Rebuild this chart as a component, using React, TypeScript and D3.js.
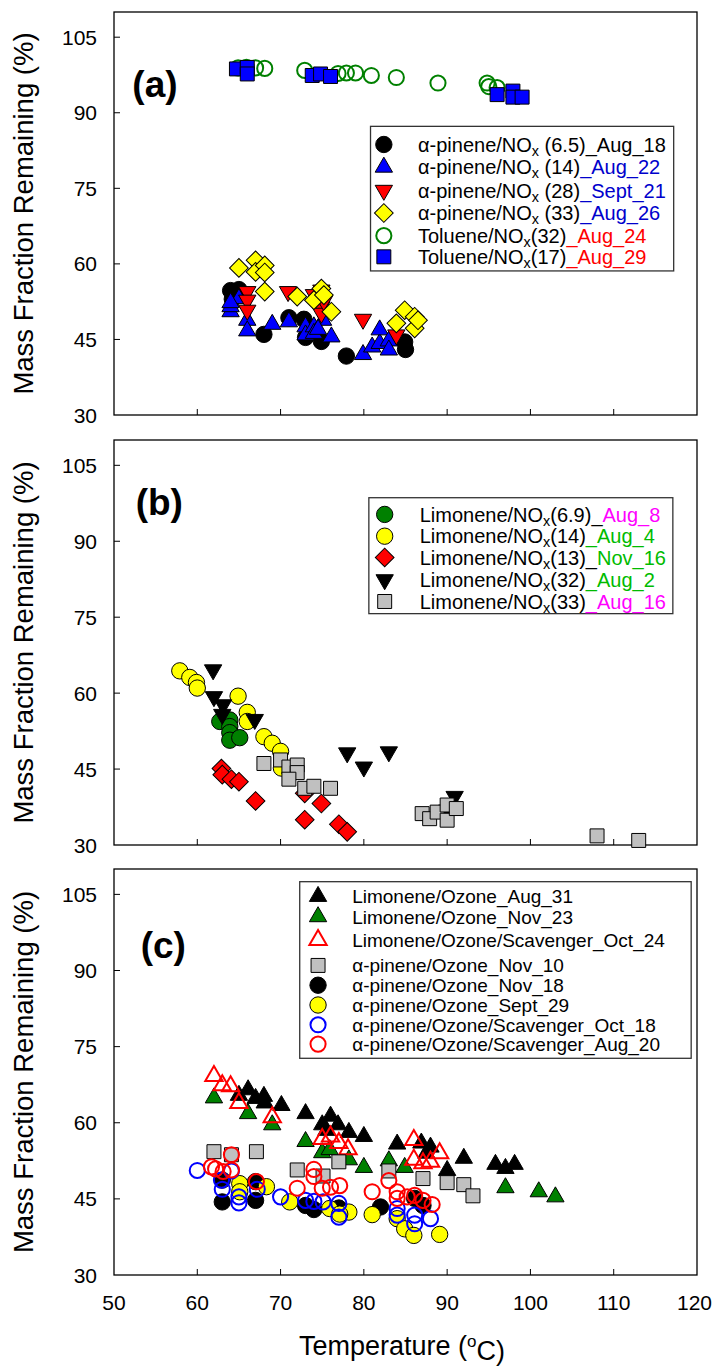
import * as d3 from 'd3';

const xTicks = [50, 60, 70, 80, 90, 100, 110, 120];
const yTicks = [30, 45, 60, 75, 90, 105];

// (a) alpha-pinene / toluene + NOx
const apNox65: [number, number][] = [[64.0, 54.7], [65.0, 54.9], [68.0, 46.0], [71.0, 49.3], [72.8, 49.0], [73.0, 45.4], [74.9, 44.6], [77.9, 41.7], [84.9, 44.5], [85.0, 43.0], [64.2, 53.0]];
const apNox14: [number, number][] = [[64.0, 50.5], [64.0, 51.5], [65.0, 53.1], [66.0, 48.8], [66.0, 46.7], [69.0, 48.0], [71.0, 48.5], [73.0, 47.5], [73.0, 45.9], [74.0, 47.5], [74.0, 46.2], [75.1, 48.8], [76.1, 45.5], [79.9, 42.0], [81.0, 43.5], [81.9, 44.2], [81.9, 46.9], [83.0, 44.7], [83.0, 42.9], [74.5, 47.0], [64.0, 52.3]];
const apNox28: [number, number][] = [[66.0, 54.5], [66.0, 52.8], [66.0, 50.8], [70.9, 54.5], [74.0, 53.9], [74.9, 54.8], [74.9, 51.5], [74.9, 50.2], [79.9, 49.0], [83.9, 45.9], [75.2, 52.6]];
const apNox33: [number, number][] = [[65.0, 59.2], [67.0, 60.7], [67.0, 58.4], [68.1, 59.7], [68.1, 58.3], [68.1, 54.5], [72.0, 53.5], [74.0, 52.8], [74.9, 55.1], [75.2, 53.8], [76.1, 50.5], [84.9, 50.8], [86.1, 49.5], [83.9, 48.2], [86.1, 47.2], [86.5, 48.8]];
const tolNox32: [number, number][] = [[64.9, 98.9], [65.9, 99.0], [67.0, 98.9], [68.1, 98.8], [72.9, 98.4], [76.9, 97.8], [77.9, 97.9], [79.0, 97.9], [80.9, 97.4], [83.9, 97.0], [88.9, 95.9], [94.8, 95.9], [95.0, 95.2], [96.0, 95.0]];
const tolNox17: [number, number][] = [[64.7, 98.7], [66.0, 99.0], [66.0, 97.7], [73.8, 97.4], [74.8, 97.7], [76.0, 97.2], [96.0, 93.6], [97.9, 94.3], [97.9, 93.1], [99.0, 93.1]];

// (b) limonene + NOx
const limNox69: [number, number][] = [[62.7, 54.4], [63.9, 54.7], [63.9, 53.4], [63.9, 52.2], [63.9, 50.7], [65.1, 51.2]];
const limNox14: [number, number][] = [[57.9, 64.4], [59.1, 63.1], [59.9, 62.1], [60.0, 61.0], [64.9, 59.4], [66.0, 56.2], [66.0, 54.4], [68.0, 51.4], [69.0, 50.1], [70.0, 48.5], [70.1, 45.2]];
const limNox13: [number, number][] = [[62.9, 45.1], [63.0, 43.9], [64.1, 43.0], [65.0, 42.5], [67.0, 38.7], [72.9, 40.2], [72.9, 35.0], [74.9, 38.2], [77.0, 34.1], [78.0, 32.6]];
const limNox32: [number, number][] = [[61.9, 64.6], [62.0, 59.3], [63.1, 57.7], [63.0, 55.8], [66.9, 54.8], [78.0, 48.2], [80.0, 45.4], [83.0, 48.4], [90.0, 36.9], [90.9, 39.6]];
const limNox33: [number, number][] = [[68.0, 46.1], [70.0, 46.8], [71.0, 45.4], [72.0, 45.8], [72.0, 44.3], [71.0, 43.0], [72.9, 41.2], [74.0, 41.6], [76.0, 41.2], [87.0, 36.2], [87.9, 35.2], [88.8, 36.5], [90.0, 37.9], [90.0, 34.9], [91.1, 37.2], [108.0, 31.8], [113.0, 30.9]];

// (c) ozone
const limO3Aug31: [number, number][] = [[65.0, 65.4], [66.1, 66.5], [67.0, 64.8], [68.0, 65.2], [68.1, 63.9], [70.1, 63.4], [73.0, 61.8], [75.0, 59.6], [76.0, 61.3], [76.9, 59.6], [78.2, 58.1], [80.0, 57.3], [84.0, 55.8], [86.9, 56.0], [88.0, 55.2], [90.0, 50.6], [92.0, 53.0], [95.8, 51.8], [97.0, 51.0], [98.1, 51.8], [75.5, 58.5], [87.5, 54.0]];
const limO3Nov23: [number, number][] = [[62.0, 64.9], [66.1, 61.8], [69.0, 59.6], [73.0, 56.3], [75.0, 54.1], [75.9, 54.7], [78.2, 52.7], [80.0, 51.2], [83.0, 52.5], [84.9, 51.2], [97.0, 47.2], [101.0, 46.4], [103.0, 45.4]];
const limO3ScOct24: [number, number][] = [[62.0, 69.2], [63.0, 67.4], [64.0, 67.2], [65.0, 63.9], [69.0, 61.1], [75.0, 56.8], [76.0, 57.3], [77.0, 56.0], [78.1, 54.8], [86.0, 56.6], [86.0, 52.7], [87.1, 52.0], [88.0, 52.3], [89.1, 54.0]];
const apO3Nov10: [number, number][] = [[62.0, 54.3], [64.1, 53.7], [67.1, 54.3], [72.0, 50.7], [75.1, 49.5], [77.0, 52.3], [83.0, 50.5], [87.1, 49.0], [90.0, 48.2], [92.0, 47.8], [93.1, 45.6]];
const apO3Nov18: [number, number][] = [[63.0, 44.4], [63.0, 48.7], [67.0, 44.7], [67.0, 48.4], [73.0, 43.7], [74.0, 42.9], [77.0, 43.2], [82.0, 43.4], [86.1, 45.1], [87.1, 43.7]];
const apO3Sep29: [number, number][] = [[65.1, 48.0], [65.1, 46.4], [68.3, 47.4], [71.1, 44.4], [75.9, 43.1], [78.2, 42.4], [81.0, 41.9], [84.0, 41.1], [84.9, 39.1], [86.0, 37.8], [89.1, 38.0], [77.1, 42.0]];
const apO3ScOct18: [number, number][] = [[60.0, 50.6], [62.9, 48.7], [63.0, 46.9], [64.1, 50.5], [65.0, 45.4], [65.0, 44.2], [67.2, 46.9], [70.0, 45.4], [73.0, 44.7], [74.0, 44.5], [75.1, 44.4], [77.0, 44.1], [77.0, 41.4], [84.0, 43.1], [84.0, 41.8], [86.1, 41.8], [86.1, 40.1], [88.0, 41.1]];
const apO3ScAug20: [number, number][] = [[61.7, 51.3], [62.2, 50.9], [63.1, 50.4], [64.1, 53.7], [64.1, 50.7], [67.1, 48.4], [72.0, 47.1], [74.0, 50.8], [74.0, 49.4], [75.0, 47.1], [76.0, 47.3], [77.1, 47.6], [81.0, 46.4], [83.0, 48.6], [84.0, 46.4], [84.0, 45.1], [85.2, 45.4], [86.1, 45.7], [87.1, 44.7], [88.2, 43.9]];

type Shape = 'circle' | 'up' | 'down' | 'square' | 'diamond';
type Part = { t: string; sub?: boolean; c?: string };
type Series = { data: [number, number][]; shape: Shape; fill: string; stroke: string; sw: number; label: Part[] };

const BLUE_T = '#0000cc';
const RED_T = '#ff0000';
const GREEN_T = '#00bb00';
const MAG_T = '#ff00ff';

const nox = (head: string, rest: string, date: string, c?: string): Part[] => [
  { t: head + 'NO' }, { t: 'x', sub: true }, { t: rest }, { t: date, c },
];

const seriesA: Series[] = [
  { data: apNox65, shape: 'circle', fill: '#000', stroke: '#000', sw: 1, label: nox('α-pinene/', ' (6.5)', '_Aug_18') },
  { data: apNox14, shape: 'up', fill: '#0000ff', stroke: '#000', sw: 1, label: nox('α-pinene/', ' (14)', '_Aug_22', BLUE_T) },
  { data: apNox28, shape: 'down', fill: '#ff0000', stroke: '#000', sw: 1, label: nox('α-pinene/', ' (28)', '_Sept_21', BLUE_T) },
  { data: apNox33, shape: 'diamond', fill: '#ffff00', stroke: '#000', sw: 1, label: nox('α-pinene/', ' (33)', '_Aug_26', BLUE_T) },
  { data: tolNox32, shape: 'circle', fill: 'none', stroke: '#008000', sw: 2, label: nox('Toluene/', '(32)', '_Aug_24', RED_T) },
  { data: tolNox17, shape: 'square', fill: '#0000ff', stroke: '#000', sw: 1, label: nox('Toluene/', '(17)', '_Aug_29', RED_T) },
];

const seriesB: Series[] = [
  { data: limNox69, shape: 'circle', fill: '#008000', stroke: '#000', sw: 1, label: nox('Limonene/', '(6.9)_', 'Aug_8', MAG_T) },
  { data: limNox14, shape: 'circle', fill: '#ffff00', stroke: '#000', sw: 1, label: nox('Limonene/', '(14)', '_Aug_4', GREEN_T) },
  { data: limNox13, shape: 'diamond', fill: '#ff0000', stroke: '#000', sw: 1, label: nox('Limonene/', '(13)_', 'Nov_16', GREEN_T) },
  { data: limNox32, shape: 'down', fill: '#000', stroke: '#000', sw: 1, label: nox('Limonene/', '(32)', '_Aug_2', GREEN_T) },
  { data: limNox33, shape: 'square', fill: '#c0c0c0', stroke: '#000', sw: 1, label: nox('Limonene/', '(33)', '_Aug_16', MAG_T) },
];

const seriesC: Series[] = [
  { data: limO3Aug31, shape: 'up', fill: '#000', stroke: '#000', sw: 1, label: [{ t: 'Limonene/Ozone_Aug_31' }] },
  { data: limO3Nov23, shape: 'up', fill: '#008000', stroke: '#000', sw: 1, label: [{ t: 'Limonene/Ozone_Nov_23' }] },
  { data: limO3ScOct24, shape: 'up', fill: 'none', stroke: '#ff0000', sw: 2, label: [{ t: 'Limonene/Ozone/Scavenger_Oct_24' }] },
  { data: apO3Nov10, shape: 'square', fill: '#c0c0c0', stroke: '#000', sw: 1, label: [{ t: 'α-pinene/Ozone_Nov_10' }] },
  { data: apO3Nov18, shape: 'circle', fill: '#000', stroke: '#000', sw: 1, label: [{ t: 'α-pinene/Ozone_Nov_18' }] },
  { data: apO3Sep29, shape: 'circle', fill: '#ffff00', stroke: '#000', sw: 1, label: [{ t: 'α-pinene/Ozone_Sept_29' }] },
  { data: apO3ScOct18, shape: 'circle', fill: 'none', stroke: '#0000ff', sw: 2, label: [{ t: 'α-pinene/Ozone/Scavenger_Oct_18' }] },
  { data: apO3ScAug20, shape: 'circle', fill: 'none', stroke: '#ff0000', sw: 2, label: [{ t: 'α-pinene/Ozone/Scavenger_Aug_20' }] },
];

const FONT = "'Liberation Sans', Arial, sans-serif";

const x = d3.scaleLinear().domain([50, 120]).range([114, 697]);

const symPath = (shape: Shape, open: boolean) => {
  if (shape === 'circle') return d3.symbol(d3.symbolCircle, open ? 180 : 210)()!;
  if (shape === 'up' || shape === 'down') return d3.symbol(d3.symbolTriangle, 130)()!;
  if (shape === 'diamond') return d3.symbol(d3.symbolSquare, 175)()!;
  return d3.symbol(d3.symbolSquare, 195)()!;
};
const symRot = (shape: Shape) => (shape === 'down' ? 180 : shape === 'diamond' ? 45 : 0);

function Marker({ s, cx, cy }: { s: Series; cx: number; cy: number }) {
  const open = s.fill === 'none';
  return (
    <path d={symPath(s.shape, open)} transform={`translate(${cx},${cy}) rotate(${symRot(s.shape)})`}
      fill={s.fill} stroke={s.stroke} strokeWidth={s.sw} />
  );
}

type Legend = { x0: number; x1: number; y0: number; y1: number; sym: number; txt: number; rows: number[]; fs: number };

function Panel({ top, bottom, series, letter, letterPos, legend, showX }: {
  top: number; bottom: number; series: Series[]; letter: string; letterPos: [number, number]; legend: Legend; showX: boolean;
}) {
  const y = d3.scaleLinear().domain([30, 110]).range([bottom, top]);
  const left = x(50), right = x(120);
  return (
    <g>
      <rect x={left} y={top} width={right - left} height={bottom - top} fill="none" stroke="#000" strokeWidth={1.3} />
      {yTicks.filter(t => t > 30).map(t => (
        <line key={'yt' + t} x1={left} x2={left + 6} y1={y(t)} y2={y(t)} stroke="#000" />
      ))}
      {yTicks.map(t => (
        <text key={'yl' + t} x={97} y={y(t)} dy="0.36em" textAnchor="end" fontSize={21}>{t}</text>
      ))}
      {xTicks.filter(t => t > 50 && t < 120).map(t => (
        <line key={'xt' + t} x1={x(t)} x2={x(t)} y1={bottom} y2={bottom - 6} stroke="#000" />
      ))}
      {showX && xTicks.map(t => (
        // the last label is kept inside the page edge
        <text key={'xl' + t} x={t === 120 ? 712 : x(t)} y={bottom + 35} textAnchor={t === 120 ? 'end' : 'middle'} fontSize={21}>{t}</text>
      ))}
      <text transform={`translate(33,${(top + bottom) / 2}) rotate(-90)`} textAnchor="middle" fontSize={27.5}>
        Mass Fraction Remaining (%)
      </text>
      <text x={x(letterPos[0])} y={y(letterPos[1])} dy="0.36em" fontSize={37} fontWeight="bold">{letter}</text>
      {series.map((s, i) => (
        <g key={'s' + i}>
          {s.data.map((d, j) => <Marker key={j} s={s} cx={x(d[0])} cy={y(d[1])} />)}
        </g>
      ))}
      <rect x={x(legend.x0)} y={y(legend.y0)} width={x(legend.x1) - x(legend.x0)} height={y(legend.y1) - y(legend.y0)}
        fill="#fff" stroke="#333" strokeWidth={1.3} />
      {series.map((s, i) => (
        <g key={'l' + i}>
          <Marker s={s} cx={x(legend.sym)} cy={y(legend.rows[i])} />
          <text x={x(legend.txt)} y={y(legend.rows[i])} dy="0.36em" fontSize={legend.fs}>
            {s.label.map((p, k) => p.sub
              ? <tspan key={k} dy="0.28em" fontSize={legend.fs * 0.72}>{p.t}</tspan>
              : <tspan key={k} dy={k > 0 && s.label[k - 1].sub ? '-0.2em' : undefined} fill={p.c ?? '#000'}>{p.t}</tspan>)}
          </text>
        </g>
      ))}
    </g>
  );
}

export default function App() {
  return (
    <svg width={713} height={1367} style={{ position: 'absolute', left: 0, top: 0, background: '#fff' }} fontFamily={FONT}>
      <rect width={713} height={1367} fill="#fff" />
      <Panel top={12} bottom={415} series={seriesA} letter="(a)" letterPos={[52.2, 95.8]} showX={false}
        legend={{ x0: 80.8, x1: 117.2, y0: 87.3, y1: 58.6, sym: 82.4, txt: 86.5, rows: [83.7, 79.2, 74.6, 70.1, 65.6, 61.4], fs: 20 }} />
      <Panel top={440} bottom={845} series={seriesB} letter="(b)" letterPos={[52.6, 97.9]} showX={false}
        legend={{ x0: 80.6, x1: 117.1, y0: 98.6, y1: 75.7, sym: 82.5, txt: 86.7, rows: [95.3, 91.0, 86.8, 82.4, 78.1], fs: 20 }} />
      <Panel top={869} bottom={1275} series={seriesC} letter="(c)" letterPos={[53.2, 95.0]} showX={true}
        legend={{ x0: 72.3, x1: 119.3, y0: 107.5, y1: 72.7, sym: 74.5, txt: 78.6, rows: [104.6, 100.6, 96.0, 91.0, 87.1, 83.2, 79.3, 75.5], fs: 19 }} />
      <text x={402} y={1355} textAnchor="middle" fontSize={27}>
        Temperature (<tspan dy="-0.45em" fontSize={17}>o</tspan><tspan dy="0.45em">C)</tspan>
      </text>
    </svg>
  );
}
